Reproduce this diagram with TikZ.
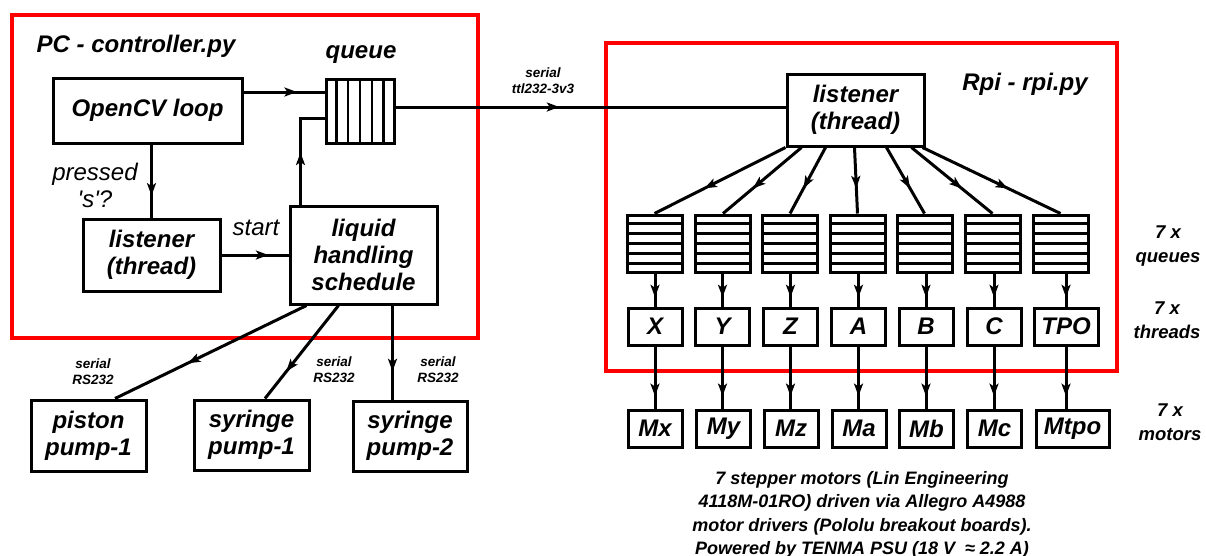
\documentclass[tikz,border=0pt]{standalone}
\usepackage{fontspec}
\setmainfont{Liberation Sans}
\usetikzlibrary{arrows.meta,decorations.markings,calc}
\begin{document}
\begin{tikzpicture}[x=1pt,y=-1pt,
  every node/.style={align=center, inner sep=0pt},
  font=\fontsize{24}{27}\selectfont\bfseries\itshape,
  box/.style={draw, line width=3pt},
  wire/.style={line width=3pt},
  redbox/.style={draw=red, line width=4.2pt},
  midarrow/.style={postaction={decorate, decoration={markings,
      mark=at position #1 with {\arrow{Stealth[length=12.5pt,width=9pt,inset=3pt]}}}}},
  small/.style={font=\fontsize{13.5}{16}\selectfont\bfseries\itshape},
  side/.style={font=\fontsize{18.5}{24}\selectfont\bfseries\itshape},
  plain/.style={font=\fontsize{24}{27}\selectfont\mdseries\itshape},
]
\useasboundingbox (0,0) rectangle (1206,555);

% red frames
\draw[redbox] (12,15) rectangle (478,338);
\draw[redbox] (606,43) rectangle (1117,371);

% ---------- PC side ----------
\node at (136,46) {PC - controller.py};
\node[box, minimum width=189pt, minimum height=65pt] (ocv) at (147.5,110.5) {OpenCV loop};
\node at (361,55) {queue};
\node[box, minimum width=68pt, minimum height=64pt] (queue) at (360,111) {};
\foreach \i in {1,...,5}{
  \draw[line width=2.6pt] ($(queue.south west)!\i/6!(queue.south east)$) -- ($(queue.north west)!\i/6!(queue.north east)$);
}
\node[box, minimum width=137pt, minimum height=72pt] (lp) at (151.5,255) {listener\\(thread)};
\node[box, minimum width=147pt, minimum height=98pt] (liq) at (363.5,255) {liquid\\handling\\schedule};

\node[plain] (pressed) at (95,185) {pressed\\\textquotesingle s\textquotesingle ?};
\node[plain] (start) at (256,228) {start};

\draw[wire, midarrow=0.66] ([yshift=18.5pt]ocv.east) -- ([yshift=19pt]queue.west);
\draw[wire, midarrow=0.7] (lp.north |- ocv.south) -- (lp.north);
\draw[wire, midarrow=0.7] (lp.east) -- (liq.west);
\coordinate (qin) at ([yshift=-7pt]queue.west);
\draw[wire, midarrow=0.47] ([xshift=12pt]liq.north west) |- (qin);

% pumps
\node[box, minimum width=115pt, minimum height=71pt] (pp) at (88.5,435.5) {piston\\pump-1};
\node[box, minimum width=115pt, minimum height=70pt] (sp1) at (251.5,435) {syringe\\pump-1};
\node[box, minimum width=114pt, minimum height=70pt] (sp2) at (410,436) {syringe\\pump-2};

\draw[wire, midarrow=0.62] ([xshift=18pt]liq.south west) -- ([xshift=26.5pt]pp.north);
\draw[wire, midarrow=0.71] ([xshift=50pt]liq.south west) -- ([xshift=13.5pt]sp1.north);
\draw[wire, midarrow=0.7] ([xshift=104pt]liq.south west) -- ([xshift=104pt]liq.south west |- sp2.north);

\node[small] at (93,372) {serial\\RS232};
\node[small] at (334,370) {serial\\RS232};
\node[small] at (438,370) {serial\\RS232};

% ---------- Rpi side ----------
\node at (1025,84) {Rpi - rpi.py};
\node[box, minimum width=137pt, minimum height=72pt] (rl) at (855.5,110) {listener\\(thread)};
\coordinate (qout) at ([yshift=4pt]queue.east);
\draw[wire, midarrow=0.42] (qout) -- (qout -| rl.west);
\node[small] at (543,81) {serial\\ttl232-3v3};

\foreach \n/\qx/\tx/\mx/\tw/\mw/\tl/\ml/\s in {
  1/654.5/655/655/54/54/X/Mx/0,
  2/723/722.5/723.5/54/54/Y/My/16,
  3/790/790.5/791/54/54/Z/Mz/40,
  4/857.5/858.5/859/54/54/A/Ma/69,
  5/924.5/926/926.5/54/54/B/Mb/101,
  6/992.5/994/994.5/54/54/C/Mc/126,
  7/1060.5/1066/1072.5/64/73/TPO/Mtpo/137}{
  \node[box, minimum width=55pt, minimum height=57pt] (q\n) at (\qx,243.5) {};
  \foreach \i in {1,...,5}{
    \draw[line width=2.6pt] ($(q\n.north west)!\i/6!(q\n.south west)$) -- ($(q\n.north east)!\i/6!(q\n.south east)$);
  }
  \node[box, minimum width=\tw pt, minimum height=37pt] (t\n) at (\tx,326.5) {\tl};
  \node[box, minimum width=\mw pt, minimum height=37pt] (m\n) at (\mx,428.5) {\ml};
  \draw[wire, midarrow=0.62] ([xshift=\s pt]rl.south west) -- (q\n.north);
  \draw[wire, midarrow=0.72] (t\n.north |- q\n.south) -- (t\n.north);
  \draw[wire, midarrow=0.8] (t\n.south) -- (t\n.south |- m\n.north);
}

\node[side] at (1168,246) {7 x\\queues};
\node[side] at (1167,320) {7 x\\threads};
\node[side] at (1170,422) {7 x\\motors};

\node[font=\fontsize{18}{23.5}\selectfont\bfseries\itshape] (note) at (862,515)
  {7 stepper motors (Lin Engineering\\4118M-01RO) driven via Allegro A4988\\motor drivers (Pololu breakout boards).\\Powered by TENMA PSU (18 V \ ≈ 2.2 A)};
\end{tikzpicture}
\end{document}
